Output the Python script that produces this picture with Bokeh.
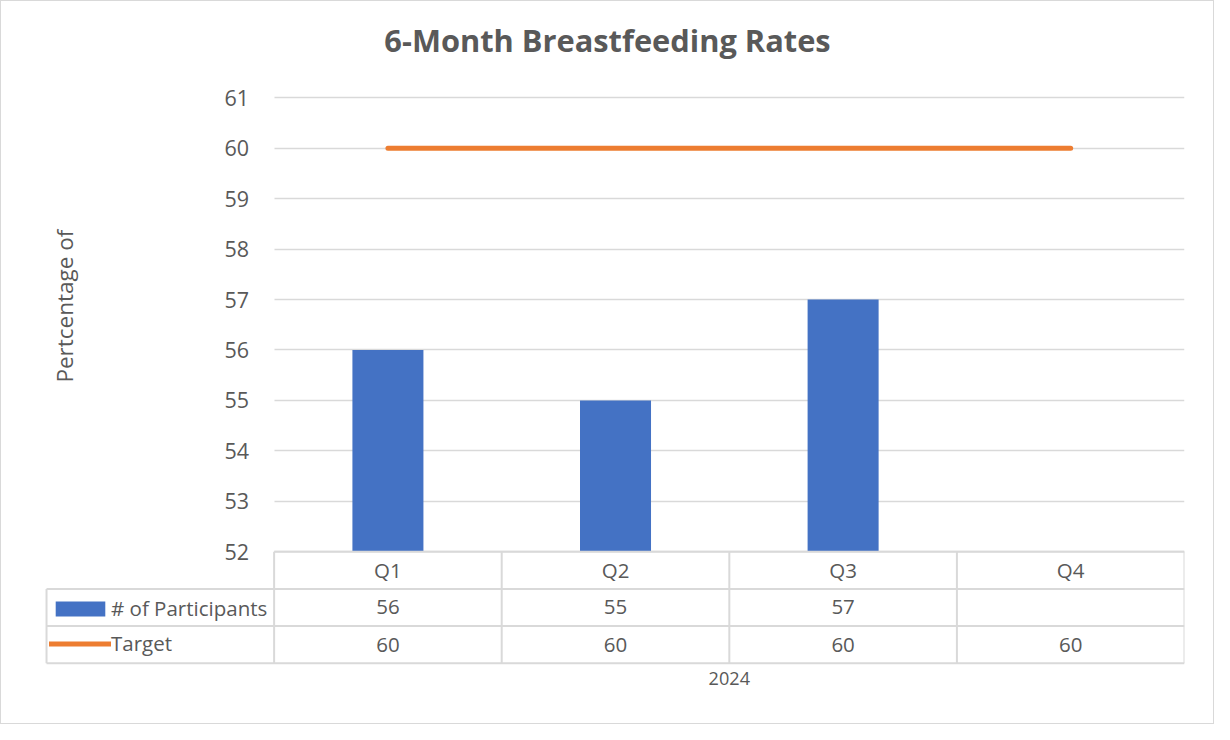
import math
from bokeh.plotting import figure
from bokeh.models import Range1d, FixedTicker, ColumnDataSource, Legend, LegendItem
from bokeh.core.properties import value
from bokeh.embed import file_html
from bokeh.resources import INLINE
from bokeh.layouts import column

# ---------------- data ----------------
chart_title = "6-Month Breastfeeding Rates"
quarters = ["Q1", "Q2", "Q3", "Q4"]
participants = [56, 55, 57, None]
target = [60, 60, 60, 60]
y_ticks = [52, 53, 54, 55, 56, 57, 58, 59, 60, 61]
y_label = "Pertcentage of"
group_label = "2024"
series_names = ["# of Participants", "Target"]

# ---------------- layout (reference pixels, scaled to the page) ----------------
REF_W, REF_H = 1230, 740
TOT_W, TOT_H = 1214, 724          # element incl. 1px border
W, H = TOT_W - 2, TOT_H - 2
SX, SY = TOT_W / REF_W, TOT_H / REF_H


def fx(v):
    return v * SX - 1


def fy(v):
    return v * SY - 1


FRAME_L, FRAME_R, FRAME_T, FRAME_B = 30, 1200, 66, 712
PLOT_L = 277
Y_LO_PX, Y_HI_PX = 563, 99
ROW_H = 38
BAR_PX = 72

FONT = "Open Sans"
TXT = "#595959"
GRID = "#d9d9d9"
BLUE = "#4472C4"
ORANGE = "#ED7D31"


def fs(px):
    return f"{px * SY:.1f}px"


n = len(quarters)
cat_w = (FRAME_R - PLOT_L) / n
x_start = -(PLOT_L - FRAME_L) / cat_w
ppu = (Y_LO_PX - Y_HI_PX) / (y_ticks[-1] - y_ticks[0])
y_start = y_ticks[0] - (FRAME_B - Y_LO_PX) / ppu
y_end = y_ticks[-1] + (Y_HI_PX - FRAME_T) / ppu
n_rows = 3
tbl_bottom_px = Y_LO_PX + n_rows * ROW_H
tbl_start = -(FRAME_B - tbl_bottom_px) / ROW_H
tbl_end = (tbl_bottom_px - FRAME_T) / ROW_H

fl, fr, ft, fb = round(fx(FRAME_L)), round(fx(FRAME_R)), round(fy(FRAME_T)), round(fy(FRAME_B))
p = figure(width=W, height=H, output_backend="svg", toolbar_location=None,
           x_range=Range1d(x_start, n), y_range=Range1d(y_start, y_end),
           min_border_left=fl, min_border_right=W - fr,
           min_border_top=ft, min_border_bottom=H - fb)
p.extra_y_ranges = {"tbl": Range1d(tbl_start, tbl_end)}
p.outline_line_color = None
p.background_fill_color = "white"
p.border_fill_color = "white"

p.title.text = chart_title
p.title.align = "center"
p.title.text_font = FONT
p.title.text_font_size = fs(31.5)
p.title.text_font_style = "bold"
p.title.text_color = TXT

# axes
p.xaxis.visible = False
p.xgrid.visible = False
yax = p.yaxis[0]
yax.ticker = FixedTicker(ticks=y_ticks)
yax.fixed_location = 0
yax.axis_line_color = None
yax.major_tick_line_color = None
yax.minor_tick_line_color = None
yax.major_label_standoff = 19
yax.major_label_text_font = FONT
yax.major_label_text_font_size = fs(22)
yax.major_label_text_color = TXT

yg = p.ygrid[0]
yg.ticker = FixedTicker(ticks=y_ticks)
yg.grid_line_color = GRID
yg.grid_line_width = 1.5
if "cross_bounds" in yg.properties():
    yg.cross_bounds = (0, n)
else:
    yg.visible = False
    p.segment(x0=[0] * len(y_ticks), x1=[n] * len(y_ticks), y0=y_ticks, y1=y_ticks,
              line_color=GRID, line_width=1.5, level="underlay")

# data marks
xc = [i + 0.5 for i in range(n)]
bar_src = ColumnDataSource(dict(x=xc, top=[v if v is not None else float("nan") for v in participants]))
bars = p.vbar(x="x", top="top", bottom=y_ticks[0], width=BAR_PX / cat_w, source=bar_src,
              fill_color=BLUE, line_color=None)
tline = p.line(x=xc, y=target, line_color=ORANGE, line_width=5, line_cap="round")

# data table lines
hx0 = [0, -1, -1, -1]
hx1 = [n] * 4
hy = [3, 2, 1, 0]
p.segment(x0=hx0, x1=hx1, y0=hy, y1=hy, y_range_name="tbl", line_color=GRID, line_width=2)
vx = [-1] + list(range(n + 1))
vy1 = [2] + [3] * (n + 1)
p.segment(x0=vx, x1=vx, y0=[0] * len(vx), y1=vy1, y_range_name="tbl", line_color=GRID, line_width=2)

# table texts
tk = dict(text_font=value(FONT), text_font_size=fs(21), text_color=TXT,
          text_align="center", text_baseline="middle", y_range_name="tbl")
p.text(x=xc, y=[2.5] * n, text=quarters, **tk)
p.text(x=xc, y=[1.5] * n, text=["" if v is None else str(v) for v in participants], **tk)
p.text(x=xc, y=[0.5] * n, text=[str(v) for v in target], **tk)
tk2 = dict(tk)
tk2["text_font_size"] = fs(18.5)
p.text(x=[n / 2], y=[-(693 - tbl_bottom_px) / ROW_H], text=[group_label], **tk2)

# y axis title
p.text(x=[-(PLOT_L - 64) / cat_w], y=[(y_ticks[0] + y_ticks[-1]) / 2 + 0.37], text=[y_label],
       angle=math.pi / 2, text_font=value(FONT), text_font_size=fs(23), text_color=TXT,
       text_align="center", text_baseline="middle")

# legend inside data table
legend = Legend(items=[LegendItem(label=series_names[0], renderers=[bars]),
                       LegendItem(label=series_names[1], renderers=[tline])],
                location=(round(fx(49) - fx(FRAME_L)), round((FRAME_B - 671.5) * SY)),
                orientation="vertical",
                glyph_width=62, glyph_height=19, label_height=20, spacing=7,
                padding=0, margin=0, label_standoff=0,
                label_text_font=FONT, label_text_font_size=fs(21), label_text_color=TXT,
                border_line_color=None, background_fill_alpha=0)
p.add_layout(legend)

layout = column(p, styles={"border": "1px solid #d9d9d9"})
open("out.html", "w").write(file_html(layout, INLINE))
